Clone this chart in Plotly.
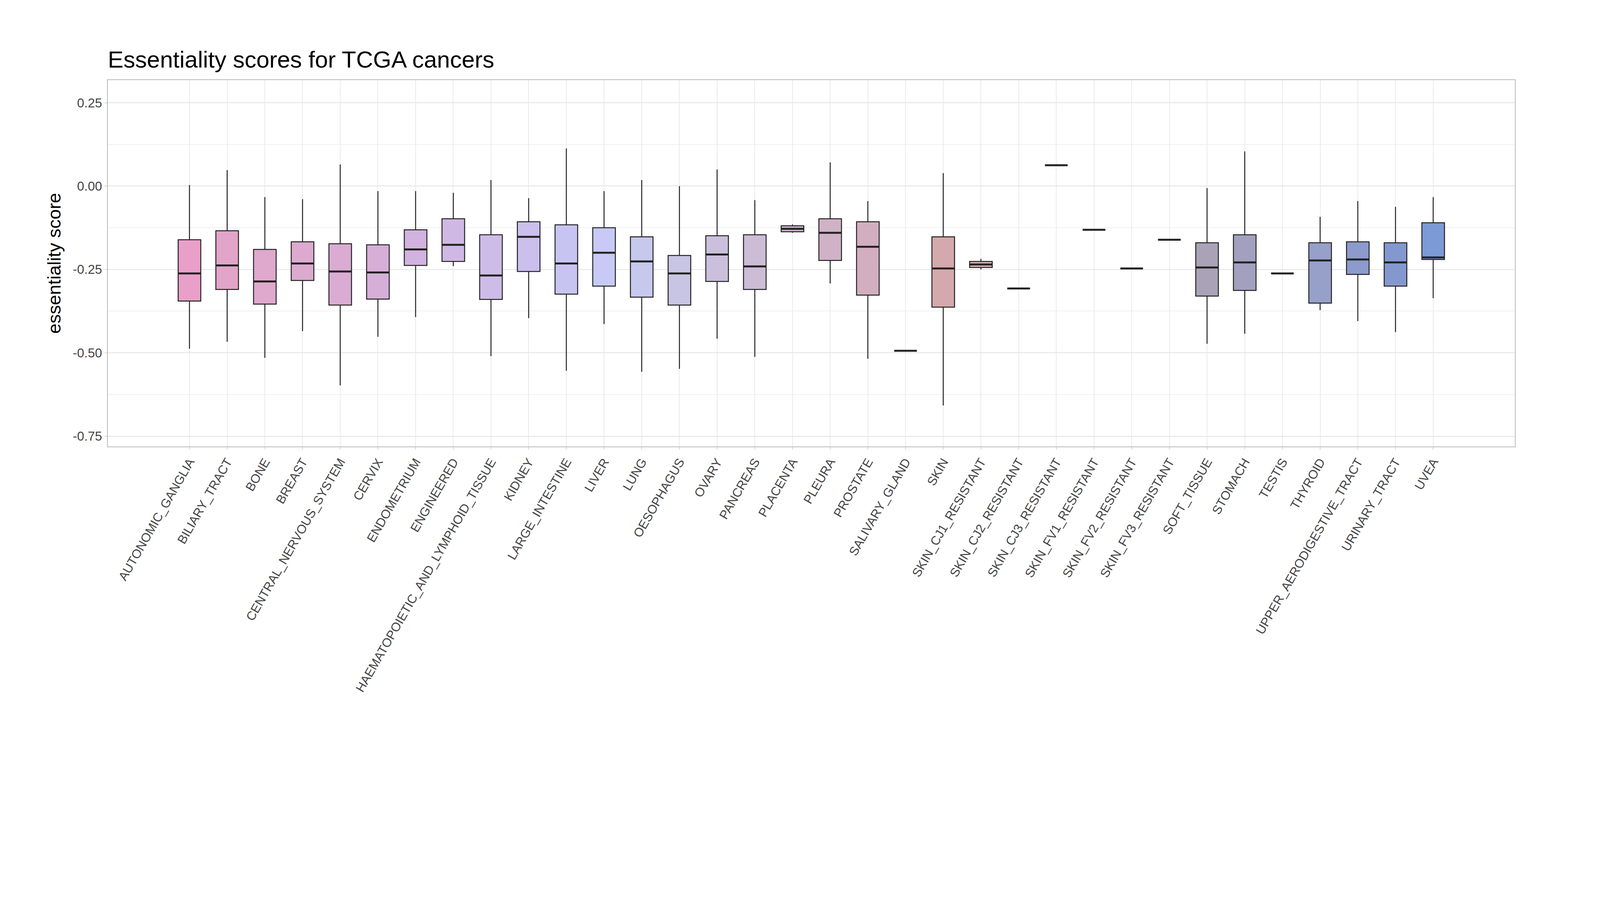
import plotly.graph_objects as go

# Tissue categories
tissues = ['AUTONOMIC_GANGLIA', 'BILIARY_TRACT', 'BONE', 'BREAST', 'CENTRAL_NERVOUS_SYSTEM', 'CERVIX',
           'ENDOMETRIUM', 'ENGINEERED', 'HAEMATOPOIETIC_AND_LYMPHOID_TISSUE', 'KIDNEY', 'LARGE_INTESTINE',
           'LIVER', 'LUNG', 'OESOPHAGUS', 'OVARY', 'PANCREAS', 'PLACENTA', 'PLEURA', 'PROSTATE',
           'SALIVARY_GLAND', 'SKIN', 'SKIN_CJ1_RESISTANT', 'SKIN_CJ2_RESISTANT', 'SKIN_CJ3_RESISTANT',
           'SKIN_FV1_RESISTANT', 'SKIN_FV2_RESISTANT', 'SKIN_FV3_RESISTANT', 'SOFT_TISSUE', 'STOMACH',
           'TESTIS', 'THYROID', 'UPPER_AERODIGESTIVE_TRACT', 'URINARY_TRACT', 'UVEA']

# Box statistics
upper = [0.003, 0.048, -0.033, -0.039, 0.065, -0.015, -0.015, -0.020, 0.018, -0.036, 0.113,
         -0.015, 0.018, 0.000, 0.050, -0.042, -0.115, 0.071, -0.045, -0.494, 0.039, -0.218,
         -0.307, 0.0625, -0.131, -0.247, -0.161, -0.006, 0.104, -0.262, -0.092, -0.045, -0.062, -0.033]
q3 = [-0.161, -0.134, -0.190, -0.167, -0.173, -0.176, -0.131, -0.098, -0.146, -0.107, -0.116,
      -0.125, -0.152, -0.208, -0.149, -0.146, -0.119, -0.098, -0.107, -0.494, -0.152, -0.226,
      -0.307, 0.0625, -0.131, -0.247, -0.161, -0.170, -0.146, -0.262, -0.170, -0.167, -0.170, -0.110]
median = [-0.262, -0.238, -0.286, -0.232, -0.256, -0.259, -0.190, -0.176, -0.268, -0.152, -0.232,
          -0.200, -0.226, -0.262, -0.205, -0.241, -0.128, -0.140, -0.182, -0.494, -0.247, -0.235,
          -0.307, 0.0625, -0.131, -0.247, -0.161, -0.244, -0.229, -0.262, -0.223, -0.220, -0.229, -0.214]
q1 = [-0.345, -0.310, -0.354, -0.283, -0.357, -0.339, -0.238, -0.226, -0.340, -0.256, -0.324,
      -0.300, -0.333, -0.357, -0.286, -0.310, -0.137, -0.223, -0.327, -0.494, -0.363, -0.244,
      -0.307, 0.0625, -0.131, -0.247, -0.161, -0.330, -0.313, -0.262, -0.351, -0.265, -0.300, -0.220]
lower = [-0.488, -0.467, -0.515, -0.435, -0.598, -0.452, -0.393, -0.240, -0.510, -0.396, -0.554,
         -0.414, -0.557, -0.548, -0.458, -0.512, -0.140, -0.292, -0.518, -0.494, -0.658, -0.250,
         -0.307, 0.0625, -0.131, -0.247, -0.161, -0.473, -0.443, -0.262, -0.372, -0.405, -0.438, -0.336]

colors = ['#E8A0C8', '#E2A4C9', '#DFA8CD', '#DCAACF', '#DAACD3', '#D6AED8', '#D2B2DE', '#D0B8E4',
          '#CEBCE8', '#CBBFEE', '#C8C4F2', '#C6CAF5', '#C6C8EE', '#C8C4E4', '#CAC0DC', '#CCBCD6',
          '#CEB6CE', '#D0B2C6', '#D2AEC0', '#D4AABA', '#D4A8AC', '#D8B0B0', '#CCA6AE', '#C8A6B2',
          '#C0A4B6', '#B8A2B8', '#B0A2BA', '#AAA2B6', '#A2A0BE', '#9AA0C4', '#96A0C8', '#8C9ACC',
          '#8498D0', '#7C9AD6']

fig = go.Figure()
for i, t in enumerate(tissues):
    fig.add_trace(go.Box(
        x=[t], q1=[q1[i]], median=[median[i]], q3=[q3[i]],
        lowerfence=[lower[i]], upperfence=[upper[i]],
        fillcolor=colors[i], line=dict(color='#222222', width=2.5),
        whiskerwidth=0, width=0.6, boxpoints=False, showlegend=False,
        hoverinfo='y'
    ))
    # thicker median bar, as in ggplot
    fig.add_trace(go.Box(
        x=[t], q1=[median[i]], median=[median[i]], q3=[median[i]],
        lowerfence=[median[i]], upperfence=[median[i]],
        fillcolor='rgba(0,0,0,0)', line=dict(color='#222222', width=5),
        whiskerwidth=0, width=0.6, boxpoints=False, showlegend=False,
        hoverinfo='skip'
    ))

fig.update_layout(
    width=4000, height=1920,
    paper_bgcolor='white', plot_bgcolor='white',
    font=dict(family='Liberation Sans, Arial', color='#333333'),
    title=dict(text='Essentiality scores for TCGA cancers', font=dict(size=60, color='black'),
               x=0.067, xanchor='left', y=0.925, yanchor='middle'),
    margin=dict(l=268, r=130, t=197, b=785),
    boxmode='overlay',
    xaxis=dict(categoryorder='array', categoryarray=tissues, tickangle=-60,
               tickfont=dict(size=32, color='#444444'), showgrid=True, gridcolor='#EBEBEB',
               gridwidth=2, ticks='outside', ticklen=6, tickcolor='#AAAAAA',
               showline=True, mirror=True, linecolor='#BBBBBB', linewidth=2),
    yaxis=dict(range=[-0.781, 0.318], tickvals=[-0.75, -0.5, -0.25, 0.0, 0.25],
               ticktext=['-0.75', '-0.50', '-0.25', '0.00', '0.25'],
               tickfont=dict(size=33, color='#444444'), showgrid=True, gridcolor='#E3E3E3',
               gridwidth=2, minor=dict(showgrid=True, gridcolor='#F0F0F0', dtick=0.125),
               ticks='outside', ticklen=6, tickcolor='#AAAAAA', zeroline=False,
               showline=True, mirror=True, linecolor='#BBBBBB', linewidth=2,
               title=dict(text='essentiality score', font=dict(size=47, color='black'), standoff=16)),
)

fig.write_html('out.html')
